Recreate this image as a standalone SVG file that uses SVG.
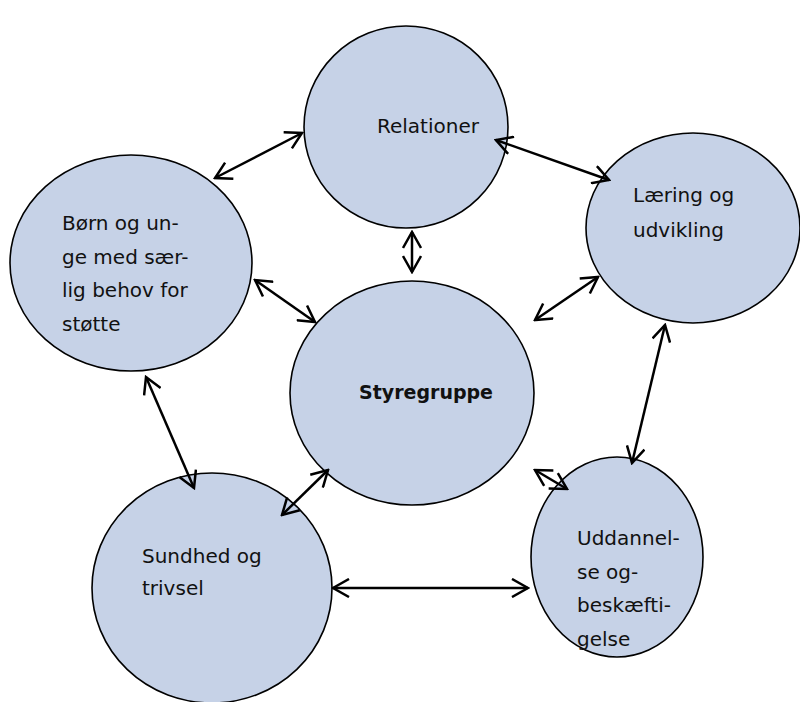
<svg xmlns="http://www.w3.org/2000/svg" width="800" height="702" viewBox="0 0 800 702">
<defs>
<marker id="v" viewBox="0 0 20 20" refX="18" refY="10" markerWidth="20" markerHeight="20" markerUnits="userSpaceOnUse" orient="auto-start-reverse">
<path d="M2,1 L18,10 L2,19" fill="none" stroke="#000" stroke-width="2.5"/>
</marker>
<style>
.n{fill:#c6d2e7;stroke:#000;stroke-width:1.6}
.t{font-family:"DejaVu Sans",Verdana,sans-serif;font-size:20px;fill:#111}
.b{font-weight:bold;font-size:19px}
.c line{stroke:#000;stroke-width:2.5;marker-start:url(#v);marker-end:url(#v)}
</style>
</defs>
<rect width="800" height="702" fill="#fff"/>
<g id="relationer"><ellipse class="n" cx="406" cy="127" rx="102" ry="101"/><text class="t" x="377" y="133">Relationer</text></g>
<g id="laering"><ellipse class="n" cx="693" cy="228" rx="107" ry="95"/><text class="t" x="633" y="202">Læring og</text><text class="t" x="633" y="237">udvikling</text></g>
<g id="born"><ellipse class="n" cx="131" cy="263" rx="121" ry="108"/><text class="t" x="62" y="230">Børn og un-</text><text class="t" x="62" y="264">ge med sær-</text><text class="t" x="62" y="297">lig behov for</text><text class="t" x="62" y="331">støtte</text></g>
<g id="styregruppe"><ellipse class="n" cx="412" cy="393" rx="122" ry="112"/><text class="t b" x="359" y="399">Styregruppe</text></g>
<g id="sundhed"><ellipse class="n" cx="212" cy="588" rx="120" ry="115"/><text class="t" x="142" y="563">Sundhed og</text><text class="t" x="142" y="595">trivsel</text></g>
<g id="uddannelse"><ellipse class="n" cx="617" cy="557" rx="86" ry="100"/><text class="t" x="577" y="545">Uddannel-</text><text class="t" x="577" y="579">se og-</text><text class="t" x="577" y="612">beskæfti-</text><text class="t" x="577" y="646">gelse</text></g>
<g id="connectors" class="c">
<line x1="215" y1="178" x2="302" y2="133"/>
<line x1="496" y1="140" x2="609" y2="180"/>
<line x1="412" y1="232" x2="412" y2="272"/>
<line x1="255" y1="280" x2="315" y2="322"/>
<line x1="535" y1="320" x2="598" y2="277"/>
<line x1="146" y1="377" x2="194" y2="488"/>
<line x1="665" y1="325" x2="632" y2="463"/>
<line x1="328" y1="470" x2="282" y2="515"/>
<line x1="535" y1="470" x2="567" y2="489"/>
<line x1="333" y1="588" x2="528" y2="588"/>
</g>
</svg>
